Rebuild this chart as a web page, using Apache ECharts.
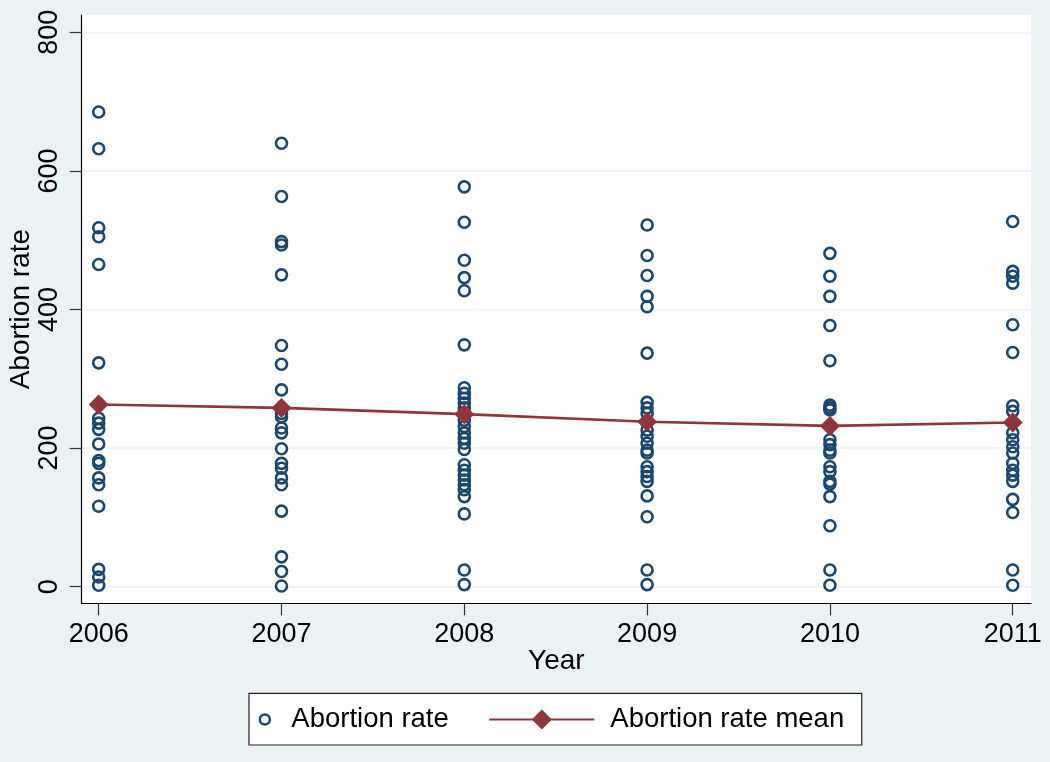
<!DOCTYPE html>
<html>
<head>
<meta charset="utf-8">
<script src="https://cdn.jsdelivr.net/npm/echarts@6/dist/echarts.min.js"></script>
<style>html,body{margin:0;padding:0;background:#eaf2f3;}#c{width:1050px;height:762px;}</style>
</head>
<body>
<div id="c"></div>
<script>
// ---- data ----
const years = [2006, 2007, 2008, 2009, 2010, 2011];
const yTicks = [0, 200, 400, 600, 800];
const rate2006 = [685, 632, 518, 505, 465, 323, 243, 236, 227, 206, 182, 178, 157, 147, 116, 25, 14, 2];
const rate2007 = [640, 563, 498, 493, 450, 348, 321, 284, 250, 245, 229, 222, 199, 178, 171, 157, 147, 109, 43, 22, 1];
const rate2008 = [577, 526, 471, 446, 427, 349, 287, 279, 272, 265, 258, 240, 231, 222, 214, 207, 198, 176, 168, 161, 154, 147, 140, 130, 105, 24, 3];
const rate2009 = [522, 478, 449, 419, 404, 337, 266, 258, 250, 226, 217, 207, 197, 193, 173, 166, 159, 152, 131, 101, 24, 3];
const rate2010 = [481, 448, 419, 377, 326, 262, 258, 255, 212, 205, 197, 193, 173, 166, 152, 148, 130, 88, 24, 2];
const rate2011 = [527, 455, 448, 438, 378, 338, 261, 253, 222, 212, 202, 193, 178, 168, 161, 152, 126, 107, 24, 2];
const rateMean = [263, 258, 249, 238, 232, 237];

const allRates = [rate2006, rate2007, rate2008, rate2009, rate2010, rate2011];
const scatterData = [];
allRates.forEach((arr, i) => arr.forEach(v => scatterData.push([years[i], v])));
const meanData = years.map((y, i) => [y, rateMean[i]]);

const FONT = '"Liberation Sans", Arial, Helvetica, sans-serif';
const NAVY = '#1a476f';
const MAROON = '#90353b';

const chart = echarts.init(document.getElementById('c'), null, {renderer: 'canvas'});
chart.setOption({
  animation: false,
  backgroundColor: '#eaf2f3',
  textStyle: {fontFamily: FONT},
  grid: {
    left: 81.7, right: 19, top: 15, bottom: 158.7,
    show: true, backgroundColor: '#ffffff', borderWidth: 0,
    outerBoundsMode: 'none', containLabel: false
  },
  xAxis: {
    type: 'value',
    min: 2005.907, max: 2011.1,
    name: 'Year', nameLocation: 'middle', nameGap: 44, nameMoveOverlap: false,
    nameTextStyle: {fontSize: 28, color: '#000', fontFamily: FONT},
    axisLine: {show: true, onZero: false, lineStyle: {color: '#000', width: 1.2}},
    axisTick: {show: true, length: 12, customValues: years, lineStyle: {color: '#333', width: 1.2}},
    axisLabel: {customValues: years, fontSize: 27, color: '#000', margin: 18, fontFamily: FONT,
      formatter: v => String(v)},
    splitLine: {show: false}
  },
  yAxis: {
    type: 'value',
    min: -24, max: 825,
    name: 'Abortion rate', nameLocation: 'middle', nameGap: 46, nameMoveOverlap: false,
    nameTextStyle: {fontSize: 28, color: '#000', fontFamily: FONT},
    axisLine: {show: true, onZero: false, lineStyle: {color: '#000', width: 1.2}},
    axisTick: {show: true, length: 12, customValues: yTicks, lineStyle: {color: '#333', width: 1.2}},
    axisLabel: {customValues: yTicks, rotate: 90, fontSize: 27, color: '#000', margin: 19, fontFamily: FONT},
    splitLine: {show: true, lineStyle: {color: '#eaf2f3', width: 1.5}}
  },
  legend: [
    {
      data: [{name: 'Abortion rate', icon: 'circle',
        itemStyle: {color: 'rgba(0,0,0,0)', borderColor: NAVY, borderWidth: 2.5}}],
      left: 258.6, top: 705.5, padding: 0, orient: 'horizontal',
      itemWidth: 43, itemHeight: 10,
      textStyle: {fontSize: 27.5, color: '#000', fontFamily: FONT},
      selectedMode: false
    },
    {
      data: ['Abortion rate mean'],
      left: 488.3, top: 705.5, padding: 0, orient: 'horizontal',
      itemWidth: 105, itemHeight: 25,
      textStyle: {fontSize: 27.5, color: '#000', fontFamily: FONT, padding: [0, 0, 0, 11]},
      selectedMode: false
    }
  ],
  graphic: [{
    type: 'rect', z: 0,
    shape: {x: 249, y: 693.3, width: 612.7, height: 51.7},
    style: {fill: '#ffffff', stroke: '#222', lineWidth: 1.2}
  }],
  series: [
    {
      name: 'Abortion rate', type: 'scatter', data: scatterData,
      symbol: 'circle', symbolSize: 11, z: 2,
      itemStyle: {color: 'rgba(0,0,0,0)', borderColor: NAVY, borderWidth: 2.6, opacity: 1}
    },
    {
      name: 'Abortion rate mean', type: 'line', data: meanData,
      symbol: 'diamond', symbolSize: [20, 20], z: 3,
      lineStyle: {color: MAROON, width: 2.6},
      itemStyle: {color: MAROON}
    }
  ]
});
</script>
</body>
</html>
